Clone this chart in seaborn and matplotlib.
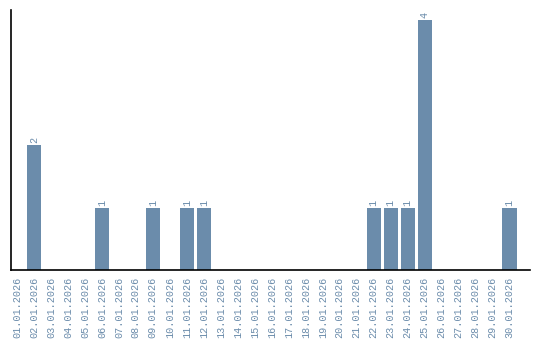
import matplotlib
matplotlib.use("Agg")
import matplotlib.pyplot as plt
import seaborn as sns
import pandas as pd

dates = [f"{d:02d}.01.2026" for d in range(1, 31)]
counts = [0, 2, 0, 0, 0, 1, 0, 0, 1, 0, 1, 1, 0, 0, 0, 0, 0, 0, 0, 0, 0, 1, 1, 1, 4, 0, 0, 0, 0, 1]

df = pd.DataFrame({"date": dates, "count": counts})
color = "#6b8cab"

sns.set_style("white")
plt.rcParams["font.family"] = ["Liberation Mono", "DejaVu Sans Mono"]

fig = plt.figure(figsize=(5.4, 3.4), dpi=100)
ax = fig.add_axes([10.5 / 540, 70 / 340, (530 - 10.5) / 540, 260 / 340])
sns.barplot(data=df, x="date", y="count", color=color, width=0.84, saturation=1,
            linewidth=0, ax=ax)

ax.set_xlim(-0.38, 30.2)
ax.set_ylim(0, 4.16)
ax.set_xlabel("")
ax.set_ylabel("")
ax.set_yticks([])
ax.tick_params(axis="x", length=0, pad=5, labelsize=7.3, labelcolor=color, rotation=90)
for s in ["top", "right"]:
    ax.spines[s].set_visible(False)
for s in ["left", "bottom"]:
    ax.spines[s].set_color("black")
    ax.spines[s].set_linewidth(1.2)

for i, v in enumerate(counts):
    if v > 0:
        ax.text(i, v + 0.03, str(v), rotation=90, ha="center", va="bottom",
                fontsize=7.3, color=color)

fig.savefig("out.png", dpi=100)
